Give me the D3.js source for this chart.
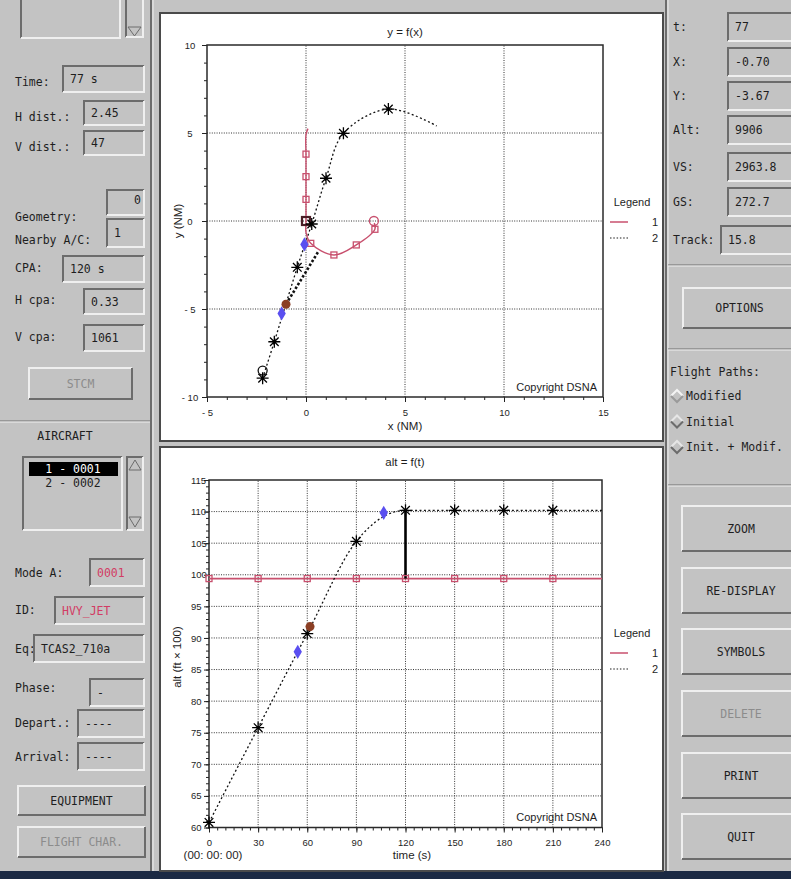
<!DOCTYPE html>
<html>
<head>
<meta charset="utf-8">
<script src="https://cdn.jsdelivr.net/npm/d3@7"></script>
<style>
body { margin: 0; background: #c3c3c3; overflow: hidden; }
svg { display: block; }
</style>
</head>
<body>
<svg></svg>
<script>
// ---- data: horizontal plane y = f(x), NM ----
const xyDomainX = [-5, 15];
const xyDomainY = [-10, 10];
const xyTicksX = [-5, 0, 5, 10, 15];
const xyTicksY = [-10, -5, 0, 5, 10];
const xyGridX = [0, 5, 10];
const xyGridY = [-5, 0, 5];

const track1XY = [[3.45, -0.12], [3.48, -0.47], [2.54, -1.36], [1.41, -1.93], [0.24, -1.27], [0.0, -0.65], [0, 0], [0, 1.23], [0, 2.52], [0, 3.8], [0, 4.9], [0.1, 5.25]];
const squares1XY = [[3.48, -0.47], [2.54, -1.36], [1.41, -1.93], [0.24, -1.27], [0, 1.23], [0, 2.52], [0, 3.8]];
const current1XY = [[0, 0]];
const start1XY = [[3.43, 0.0]];
const track2XY = [[-2.19, -8.93], [-1.6, -6.86], [-0.44, -2.63], [0.29, -0.17], [1.01, 2.43], [1.89, 4.98], [4.16, 6.36], [6.6, 5.4]];
const stars2XY = [[-2.19, -8.93], [-1.6, -6.86], [-0.44, -2.63], [0.29, -0.17], [1.01, 2.43], [1.89, 4.98], [4.16, 6.36]];
const start2XY = [[-2.19, -8.5]];
const blueXY = [[-1.23, -5.25], [-0.08, -1.33]];
const brownXY = [[-1.01, -4.73]];
const cpaXY = [[-1.01, -4.73], [0.62, -1.74]];

// ---- data: altitude alt = f(t), ft x 100 ----
const altDomainX = [0, 240];
const altDomainY = [60, 115];
const altTicksX = [0, 30, 60, 90, 120, 150, 180, 210, 240];
const altTicksY = [60, 65, 70, 75, 80, 85, 90, 95, 100, 105, 110, 115];
const altGridX = [30, 60, 90, 120, 150, 180, 210];
const altGridY = [65, 70, 75, 80, 85, 90, 95, 100, 105, 110];
const times = [0, 30, 60, 90, 120, 150, 180, 210];
const alt1 = [99.4, 99.4, 99.4, 99.4, 99.4, 99.4, 99.4, 99.4];
const alt2 = [60.8, 75.8, 90.7, 105.3, 110.2, 110.2, 110.2, 110.2];
const blueAlt = [[54.2, 87.8], [106.7, 109.8]];
const brownAlt = [[61.7, 91.8]];
const cpaTime = 120;

// ---- panel texts ----
const leftFields1 = [
  { label: "Time:", value: "77 s", ly: 82, box: [62, 65, 83, 28] },
  { label: "H dist.:", value: "2.45", ly: 117, box: [83, 100, 62, 26] },
  { label: "V dist.:", value: "47", ly: 147, box: [83, 130, 62, 26] },
  { label: "Geometry:", value: "0", ly: 217, box: [106, 189, 39, 27], vy: 204, vx: 134 },
  { label: "Nearby A/C:", value: "1", ly: 240, box: [106, 218, 39, 30] },
  { label: "CPA:", value: "120 s", ly: 268, box: [62, 255, 83, 28] },
  { label: "H cpa:", value: "0.33", ly: 300, box: [83, 288, 62, 27] },
  { label: "V cpa:", value: "1061", ly: 337, box: [83, 324, 62, 28] }
];
const leftFields2 = [
  { label: "Mode A:", value: "0001", ly: 573, box: [89, 558, 56, 29], red: true },
  { label: "ID:", value: "HVY_JET", ly: 610, box: [54, 596, 91, 29], red: true },
  { label: "Eq:", value: "TCAS2_710a", ly: 649, box: [33, 634, 112, 29] },
  { label: "Phase:", value: "-", ly: 688, box: [89, 678, 56, 29] },
  { label: "Depart.:", value: "----", ly: 723, box: [77, 709, 68, 29] },
  { label: "Arrival:", value: "----", ly: 757, box: [77, 742, 68, 29] }
];
const aircraftList = ["1 - 0001", "2 - 0002"];
const rightFields = [
  { label: "t:", value: "77", ly: 27 },
  { label: "X:", value: "-0.70", ly: 62 },
  { label: "Y:", value: "-3.67", ly: 96 },
  { label: "Alt:", value: "9906", ly: 130 },
  { label: "VS:", value: "2963.8", ly: 167 },
  { label: "GS:", value: "272.7", ly: 202 },
  { label: "Track:", value: "15.8", ly: 240 }
];
const flightPaths = ["Modified", "Initial", "Init. + Modif."];
const rightButtons = [
  { label: "ZOOM", y: 505 },
  { label: "RE-DISPLAY", y: 567 },
  { label: "SYMBOLS", y: 628 },
  { label: "DELETE", y: 690, off: true },
  { label: "PRINT", y: 752 },
  { label: "QUIT", y: 813 }
];

const W = 791, H = 879;
const BG = "#c3c3c3", LIGHT = "#efefef", DARK = "#6c6c6c", INK = "#1e1e1e", GREY = "#8c8c8c";
const RED = "#c8506e";
const UIFONT = "'DejaVu Sans Mono', monospace";
const CHFONT = "'Liberation Sans', Arial, sans-serif";

const svg = d3.select("svg").attr("width", W).attr("height", H);
svg.append("rect").attr("width", W).attr("height", H).attr("fill", BG);

// boîtes en relief (style Motif)
function bevel(x, y, w, h, sunken) {
  const g = svg.append("g");
  g.append("rect").attr("x", x).attr("y", y).attr("width", w).attr("height", h).attr("fill", BG);
  g.append("path").attr("d", `M${x + 1},${y + h - 1}V${y + 1}H${x + w - 1}`)
    .attr("fill", "none").attr("stroke", sunken ? DARK : LIGHT).attr("stroke-width", 2);
  g.append("path").attr("d", `M${x + w - 1},${y + 1}V${y + h - 1}H${x + 1}`)
    .attr("fill", "none").attr("stroke", sunken ? LIGHT : DARK).attr("stroke-width", 2);
  return g;
}

function uiText(x, y, s, opts = {}) {
  return svg.append("text").attr("x", x).attr("y", y).text(s)
    .attr("font-family", UIFONT).attr("font-size", opts.size || 11.5)
    .attr("fill", opts.fill || INK).attr("text-anchor", opts.anchor || "start");
}

function button(x, y, w, h, label, off) {
  bevel(x, y, w, h, false);
  uiText(x + w / 2, y + h / 2 + 4, label, { anchor: "middle", fill: off ? GREY : INK });
}

function separator(x0, x1, y) {
  svg.append("line").attr("x1", x0).attr("x2", x1).attr("y1", y).attr("y2", y).attr("stroke", DARK);
  svg.append("line").attr("x1", x0).attr("x2", x1).attr("y1", y + 1).attr("y2", y + 1).attr("stroke", LIGHT);
}

// ---------- left panel ----------
bevel(20, -6, 101, 45, true);
bevel(125, -6, 19, 44, true);
svg.append("path").attr("d", "M128,27L141,27L134.5,36Z").attr("fill", "none").attr("stroke", DARK);

leftFields1.concat(leftFields2).forEach(f => {
  uiText(15, f.ly + 4, f.label);
  const [bx, by, bw, bh] = f.box;
  bevel(bx, by, bw, bh, true);
  uiText(f.vx || bx + 8, f.vy || by + bh / 2 + 4, f.value, { fill: f.red ? "#d23c64" : INK });
});
button(28, 367, 105, 33, "STCM", true);
separator(0, 150, 421);
uiText(65, 440, "AIRCRAFT", { anchor: "middle" });
bevel(22, 456, 101, 75, true);
svg.append("rect").attr("x", 29).attr("y", 462).attr("width", 89).attr("height", 14).attr("fill", "#000");
aircraftList.forEach((s, i) => {
  uiText(73, 473 + i * 14, s, { anchor: "middle", fill: i === 0 ? "#fff" : INK });
});
bevel(126, 456, 18, 75, true);
svg.append("path").attr("d", "M129,470L141,470L135,460Z").attr("fill", "none").attr("stroke", DARK);
svg.append("path").attr("d", "M129,517L141,517L135,527Z").attr("fill", "none").attr("stroke", DARK);
button(17, 785, 129, 31, "EQUIPMENT", false);
button(17, 826, 129, 32, "FLIGHT CHAR.", true);
svg.append("line").attr("x1", 151).attr("x2", 151).attr("y1", 0).attr("y2", 871).attr("stroke", DARK).attr("stroke-width", 2);
svg.append("line").attr("x1", 153).attr("x2", 153).attr("y1", 0).attr("y2", 871).attr("stroke", LIGHT);

// ---------- right panel ----------
svg.append("line").attr("x1", 666).attr("x2", 666).attr("y1", 0).attr("y2", 871).attr("stroke", DARK).attr("stroke-width", 2);
svg.append("line").attr("x1", 668).attr("x2", 668).attr("y1", 0).attr("y2", 871).attr("stroke", LIGHT);
rightFields.forEach(f => {
  uiText(673, f.ly + 4, f.label);
  const bx = f.label === "Track:" ? 720 : 727;
  bevel(bx, f.ly - 15, 80, 30, true);
  uiText(bx + 8, f.ly + 4, f.value);
});
separator(668, 791, 265);
button(682, 287, 115, 42, "OPTIONS", false);
separator(668, 791, 349);
uiText(670, 376, "Flight Paths:");
flightPaths.forEach((s, i) => {
  const cy = 396 + i * 25.5, cx = 677;
  svg.append("path").attr("d", `M${cx - 6},${cy}L${cx},${cy - 6}L${cx + 6},${cy}`)
    .attr("fill", "none").attr("stroke", i === 0 ? "#f4f4f4" : "#e6e6e6").attr("stroke-width", 2);
  svg.append("path").attr("d", `M${cx - 6},${cy}L${cx},${cy + 6}L${cx + 6},${cy}`)
    .attr("fill", "none").attr("stroke", i === 0 ? "#9a9a9a" : DARK).attr("stroke-width", 2);
  uiText(686, cy + 4, s);
});
separator(668, 791, 485);
rightButtons.forEach(b => button(681, b.y, 120, 47, b.label, b.off));

// bande du bas
svg.append("rect").attr("x", 0).attr("y", 871).attr("width", W).attr("height", 8).attr("fill", "#1b2943");

// ---------- chart helpers ----------
function starPath(r) {
  const d = r * 0.72;
  return `M${-r},0L${r},0M0,${-r}L0,${r}M${-d},${-d}L${d},${d}M${-d},${d}L${d},${-d}`;
}

function chartFrame(x, y, w, h) {
  svg.append("rect").attr("x", x).attr("y", y).attr("width", w).attr("height", h)
    .attr("fill", "#fff").attr("stroke", "#4a4a4a").attr("stroke-width", 2);
  return svg.append("g").attr("font-family", CHFONT);
}

function axes(g, x, y, o) {
  const [x0, x1] = x.range(), [y0, y1] = y.range();
  const grid = g.append("g").attr("stroke", "#333").attr("stroke-width", 1).attr("stroke-dasharray", "1,1.4");
  grid.selectAll(".gx").data(o.gridX).join("line")
    .attr("x1", d => x(d)).attr("x2", d => x(d)).attr("y1", y0).attr("y2", y1);
  grid.selectAll(".gy").data(o.gridY).join("line")
    .attr("y1", d => y(d)).attr("y2", d => y(d)).attr("x1", x0).attr("x2", x1);

  const bx = g.append("g").attr("transform", `translate(0,${y0})`);
  bx.append("g").call(d3.axisBottom(x).tickValues(o.minorX).tickSize(3).tickFormat(""));
  bx.append("g").call(d3.axisBottom(x).tickValues(o.ticksX).tickSize(5).tickPadding(7).tickFormat(o.fmt));
  const by = g.append("g").attr("transform", `translate(${x0},0)`);
  by.append("g").call(d3.axisLeft(y).tickValues(o.minorY).tickSize(3).tickFormat(""));
  by.append("g").call(d3.axisLeft(y).tickValues(o.ticksY).tickSize(5).tickFormat(o.fmt));
  [bx, by].forEach(a => {
    a.selectAll(".domain").remove();
    a.selectAll("line").attr("stroke", "#222");
    a.selectAll("text").attr("font-family", CHFONT).attr("font-size", 9.5).attr("fill", INK);
  });
  by.selectAll("text").attr("text-anchor", o.yAnchor).attr("x", o.yLabelX - x0);

  g.append("rect").attr("x", x0).attr("y", y1).attr("width", x1 - x0).attr("height", y0 - y1)
    .attr("fill", "none").attr("stroke", "#2a2a2a").attr("stroke-width", 1.5);
}

function legend(g, cx, y) {
  g.append("text").attr("x", cx).attr("y", y).attr("text-anchor", "middle")
    .attr("font-size", 11).attr("fill", INK).text("Legend");
  g.append("line").attr("x1", cx - 22).attr("x2", cx - 4).attr("y1", y + 16).attr("y2", y + 16)
    .attr("stroke", RED).attr("stroke-width", 1.5);
  g.append("line").attr("x1", cx - 22).attr("x2", cx - 4).attr("y1", y + 32).attr("y2", y + 32)
    .attr("stroke", INK).attr("stroke-width", 1.2).attr("stroke-dasharray", "1.5,1.8");
  g.append("text").attr("x", cx + 20).attr("y", y + 20).attr("font-size", 11).attr("fill", INK).text("1");
  g.append("text").attr("x", cx + 20).attr("y", y + 36).attr("font-size", 11).attr("fill", INK).text("2");
}

function markers(g, pts, x, y) {
  return {
    squares(color, size, sw) {
      g.append("g").selectAll("rect").data(pts).join("rect")
        .attr("x", d => x(d[0]) - size / 2).attr("y", d => y(d[1]) - size / 2)
        .attr("width", size).attr("height", size)
        .attr("fill", "none").attr("stroke", color).attr("stroke-width", sw);
    },
    stars() {
      g.append("g").selectAll("path").data(pts).join("path")
        .attr("transform", d => `translate(${x(d[0])},${y(d[1])})`)
        .attr("d", starPath(6)).attr("stroke", "#000").attr("stroke-width", 1.3);
    },
    diamonds() {
      g.append("g").selectAll("path").data(pts).join("path")
        .attr("transform", d => `translate(${x(d[0])},${y(d[1])})`)
        .attr("d", d3.symbol(d3.symbolDiamond, 60)).attr("fill", "#5a4ff0");
    },
    dots(color, r) {
      g.append("g").selectAll("circle").data(pts).join("circle")
        .attr("cx", d => x(d[0])).attr("cy", d => y(d[1])).attr("r", r).attr("fill", color);
    },
    rings(color, r) {
      g.append("g").selectAll("circle").data(pts).join("circle")
        .attr("cx", d => x(d[0])).attr("cy", d => y(d[1])).attr("r", r)
        .attr("fill", "none").attr("stroke", color).attr("stroke-width", 1.3);
    }
  };
}

const fmtNum = d => d < 0 ? "- " + Math.abs(d) : String(d);

// ---------- top chart : y = f(x) ----------
const g1 = chartFrame(160, 13, 503, 428);
const xS = d3.scaleLinear().domain(xyDomainX).range([207, 603]);
const yS = d3.scaleLinear().domain(xyDomainY).range([397, 45]);
axes(g1, xS, yS, {
  gridX: xyGridX, gridY: xyGridY, ticksX: xyTicksX, ticksY: xyTicksY,
  minorX: d3.range(-5, 15.01, 1), minorY: d3.range(-10, 10.01, 1),
  fmt: fmtNum, yAnchor: "middle", yLabelX: 190
});
g1.append("text").attr("x", 405).attr("y", 36).attr("text-anchor", "middle").attr("font-size", 11.5).attr("fill", INK).text("y = f(x)");
g1.append("text").attr("x", 405).attr("y", 430).attr("text-anchor", "middle").attr("font-size", 11.5).attr("fill", INK).text("x (NM)");
g1.append("text").attr("transform", "translate(182,221) rotate(-90)").attr("text-anchor", "middle").attr("font-size", 11.5).attr("fill", INK).text("y (NM)");
g1.append("text").attr("x", 597).attr("y", 391).attr("text-anchor", "end").attr("font-size", 11).attr("fill", INK).text("Copyright DSNA");
legend(g1, 632, 206);

const lineXY = d3.line().x(d => xS(d[0])).y(d => yS(d[1])).curve(d3.curveCatmullRom.alpha(0.5));
g1.append("path").attr("d", lineXY(track2XY)).attr("fill", "none").attr("stroke", "#111")
  .attr("stroke-width", 1.3).attr("stroke-dasharray", "2,2.4");
g1.append("path").attr("d", d3.line().x(d => xS(d[0])).y(d => yS(d[1]))(cpaXY)).attr("fill", "none")
  .attr("stroke", "#111").attr("stroke-width", 2.6).attr("stroke-dasharray", "2.5,2");
g1.append("path").attr("d", lineXY(track1XY)).attr("fill", "none").attr("stroke", RED).attr("stroke-width", 1.4);
markers(g1, squares1XY, xS, yS).squares(RED, 6, 1.3);
markers(g1, current1XY, xS, yS).squares("#4a1d26", 8, 2.2);
markers(g1, start1XY, xS, yS).rings(RED, 4.5);
markers(g1, start2XY, xS, yS).rings("#111", 4.5);
markers(g1, stars2XY, xS, yS).stars();
markers(g1, blueXY, xS, yS).diamonds();
markers(g1, brownXY, xS, yS).dots("#8b3f24", 4.5);

// ---------- bottom chart : alt = f(t) ----------
const g2 = chartFrame(160, 447, 503, 424);
const tS = d3.scaleLinear().domain(altDomainX).range([209, 602]);
const aS = d3.scaleLinear().domain(altDomainY).range([827.5, 480]);
axes(g2, tS, aS, {
  gridX: altGridX, gridY: altGridY, ticksX: altTicksX, ticksY: altTicksY,
  minorX: d3.range(0, 240.01, 5), minorY: d3.range(60, 115.01, 1),
  fmt: fmtNum, yAnchor: "start", yLabelX: 191
});
g2.append("text").attr("x", 405).attr("y", 466).attr("text-anchor", "middle").attr("font-size", 11.5).attr("fill", INK).text("alt = f(t)");
g2.append("text").attr("x", 412).attr("y", 859).attr("text-anchor", "middle").attr("font-size", 11.5).attr("fill", INK).text("time (s)");
g2.append("text").attr("x", 213).attr("y", 859).attr("text-anchor", "middle").attr("font-size", 11.5).attr("fill", INK).text("(00: 00: 00)");
g2.append("text").attr("transform", "translate(181,657) rotate(-90)").attr("text-anchor", "middle").attr("font-size", 11.5).attr("fill", INK).text("alt  (ft × 100)");
g2.append("text").attr("x", 597).attr("y", 821).attr("text-anchor", "end").attr("font-size", 11).attr("fill", INK).text("Copyright DSNA");
legend(g2, 632, 637);

const alt1Pts = times.map((t, i) => [t, alt1[i]]).concat([[altDomainX[1], alt1[alt1.length - 1]]]);
const alt2Pts = times.map((t, i) => [t, alt2[i]]).concat([[altDomainX[1], alt2[alt2.length - 1]]]);
const lineAlt = d3.line().x(d => tS(d[0])).y(d => aS(d[1])).curve(d3.curveMonotoneX);
g2.append("path").attr("d", lineAlt(alt1Pts)).attr("fill", "none").attr("stroke", RED).attr("stroke-width", 1.8);
g2.append("path").attr("d", lineAlt(alt2Pts)).attr("fill", "none").attr("stroke", "#111")
  .attr("stroke-width", 1.3).attr("stroke-dasharray", "2,2.4");
const iCpa = times.indexOf(cpaTime);
g2.append("line").attr("x1", tS(cpaTime)).attr("x2", tS(cpaTime))
  .attr("y1", aS(alt1[iCpa])).attr("y2", aS(alt2[iCpa])).attr("stroke", "#000").attr("stroke-width", 2.6);
markers(g2, times.map((t, i) => [t, alt1[i]]), tS, aS).squares(RED, 6, 1.3);
markers(g2, times.map((t, i) => [t, alt2[i]]), tS, aS).stars();
markers(g2, blueAlt, tS, aS).diamonds();
markers(g2, brownAlt, tS, aS).dots("#8b3f24", 4.5);
</script>
</body>
</html>
